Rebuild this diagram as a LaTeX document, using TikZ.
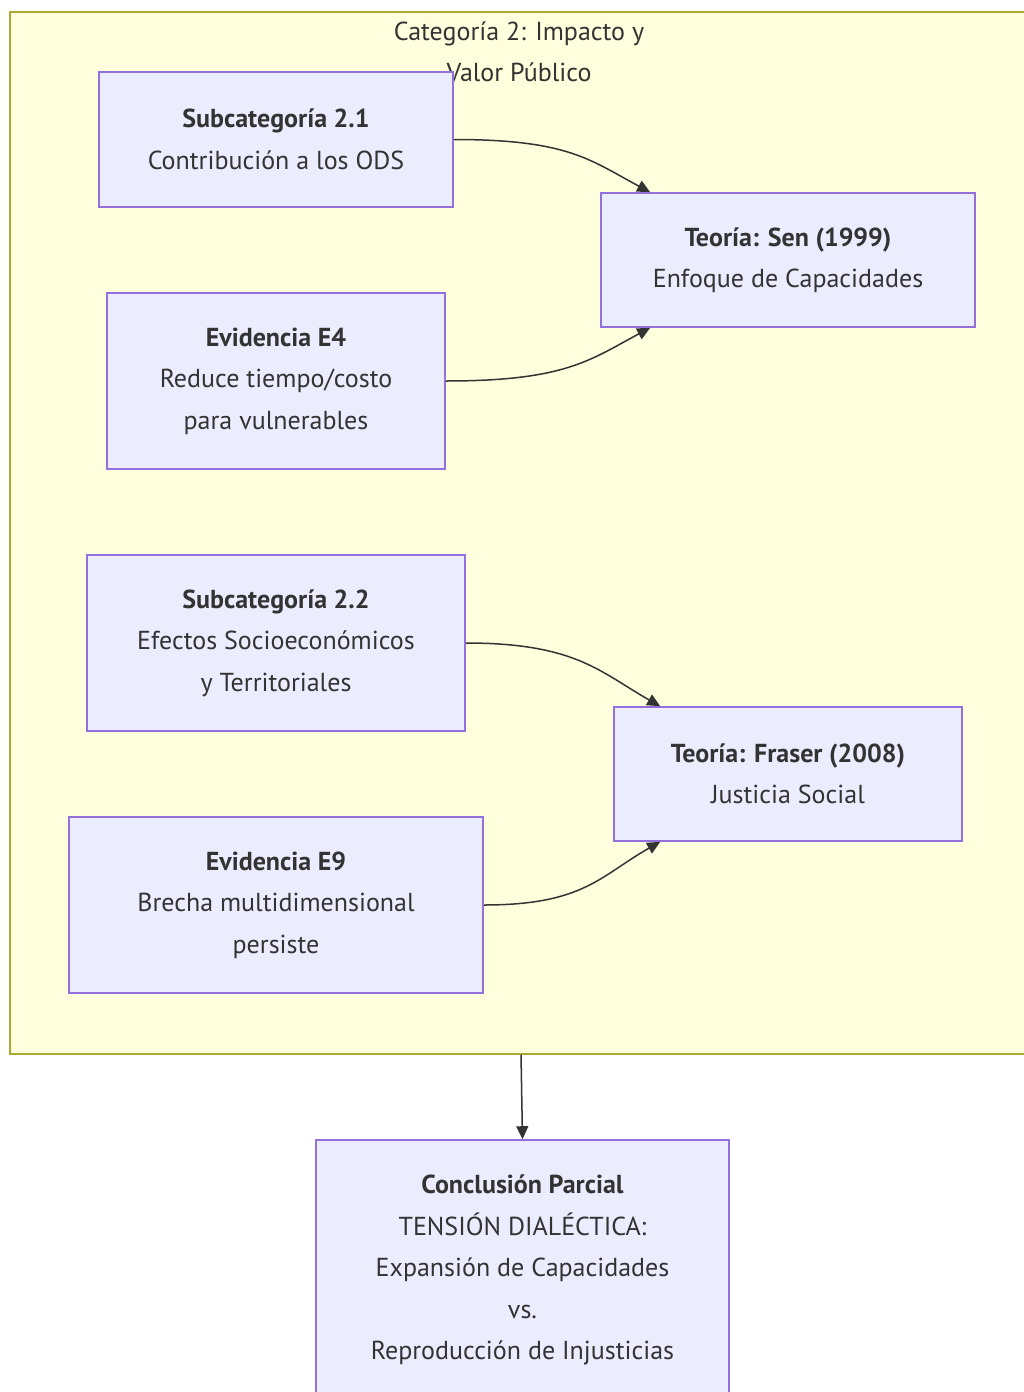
\documentclass[tikz,border=0pt]{standalone}
\usepackage{fontspec}
\setmainfont{PT Sans}
\usetikzlibrary{arrows.meta}
\definecolor{nodefill}{HTML}{ECECFF}
\definecolor{nodeline}{HTML}{9370DB}
\definecolor{clusterfill}{HTML}{FFFFDE}
\definecolor{clusterline}{HTML}{AAAA33}
\definecolor{ink}{HTML}{333333}
\begin{document}
\begin{tikzpicture}[x=1pt,y=-1pt,
  txt/.style={font=\fontsize{26}{41.5}\selectfont, text=ink, align=center},
  box/.style={txt, draw=nodeline, fill=nodefill, line width=1.6pt, inner sep=0pt},
  cluster/.style={draw=clusterline, fill=clusterfill, line width=1.3pt, inner sep=0pt},
  link/.style={draw=ink, line width=1.5pt, -{Triangle[length=13pt,width=12pt]}}]
\useasboundingbox (0,0) rectangle (1024,1392);
\fill[white] (0,0) rectangle (1024,1392);

% category frame and its title
\node[cluster, minimum width=1022, minimum height=1042] (cat) at (521,533) {};
\node[txt] (cattitle) at (519,52) {Categoría 2: Impacto y\\Valor Público};

% boxes
\node[box, minimum width=354, minimum height=135] (sub21) at (276,139.5)
  {\textbf{Subcategoría 2.1}\\Contribución a los ODS};
\node[box, minimum width=374, minimum height=134] (sen) at (788,260)
  {\textbf{Teoría: Sen (1999)}\\Enfoque de Capacidades};
\node[box, minimum width=338, minimum height=176] (e4) at (276,381)
  {\textbf{Evidencia E4}\\Reduce tiempo/costo\\para vulnerables};
\node[box, minimum width=378, minimum height=176] (sub22) at (276,643)
  {\textbf{Subcategoría 2.2}\\Efectos Socioeconómicos\\y Territoriales};
\node[box, minimum width=348, minimum height=134] (fraser) at (788,774)
  {\textbf{Teoría: Fraser (2008)}\\Justicia Social};
\node[box, minimum width=414, minimum height=176] (e9) at (276,905)
  {\textbf{Evidencia E9}\\Brecha multidimensional\\persiste};
\node[box, minimum width=413, minimum height=260] (concl) at (522.5,1270)
  {\textbf{Conclusión Parcial}\\TENSIÓN DIALÉCTICA:\\Expansión de Capacidades\\vs.\\Reproducción de Injusticias};

% connectors
\draw[link] (sub21.east) .. controls +(115,0) and +(-60,-32) .. ([xshift=50pt]sen.north west);
\draw[link] (e4.east) .. controls +(120,0) and +(-60,32) .. ([xshift=50pt]sen.south west);
\draw[link] (sub22.east) .. controls +(110,0) and +(-60,-34) .. ([xshift=47pt]fraser.north west);
\draw[link] (e9.east) .. controls +(100,0) and +(-60,34) .. ([xshift=47pt]fraser.south west);
\draw[link] (cat.south) -- (concl.north);
\end{tikzpicture}
\end{document}
